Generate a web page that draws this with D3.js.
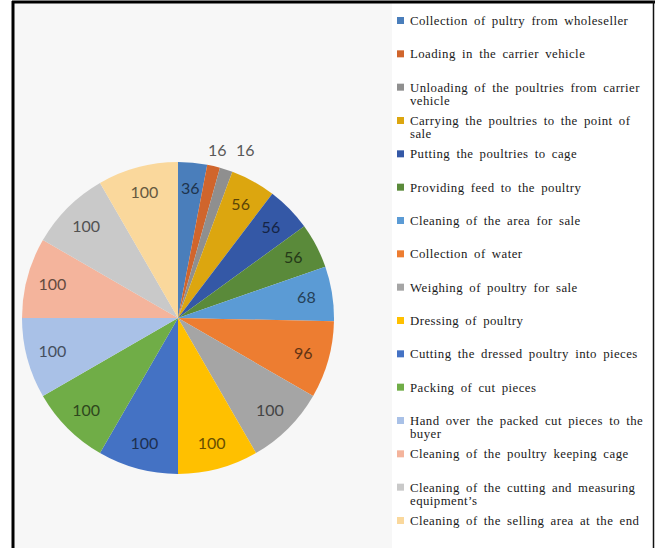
<!DOCTYPE html>
<html>
<head>
<meta charset="utf-8">
<script src="https://cdn.jsdelivr.net/npm/d3@7"></script>
<style>
  body { margin: 0; background: #fff; }
  svg { display: block; }
</style>
</head>
<body>
<div id="chart"></div>
<script>
// chart data
const tasks = [
  "Collection of pultry from wholeseller",
  "Loading in the carrier vehicle",
  "Unloading of the poultries from carrier\nvehicle",
  "Carrying the poultries to the point of\nsale",
  "Putting the poultries to cage",
  "Providing feed to the poultry",
  "Cleaning of the area for sale",
  "Collection of water",
  "Weighing of poultry for sale",
  "Dressing of poultry",
  "Cutting the dressed poultry into pieces",
  "Packing of cut pieces",
  "Hand over the packed cut pieces to the\nbuyer",
  "Cleaning of the poultry keeping cage",
  "Cleaning of the cutting and measuring\nequipment\u2019s",
  "Cleaning of the selling area at the end"
];
const values = [36, 16, 16, 56, 56, 56, 68, 96, 100, 100, 100, 100, 100, 100, 100, 100];
const colors = [
  "#4a7ebb", "#d0652c", "#8f8f8f", "#dca60f", "#3458a6", "#5a8a3a",
  "#5b9bd5", "#ed7d31", "#a5a5a5", "#ffc000", "#4472c4", "#70ad47",
  "#a9c1e7", "#f4b49c", "#c9c9c9", "#fad89c"
];

const W = 657, H = 548;
const cx = 178, cy = 318, R = 156;

const svg = d3.select("#chart").append("svg")
  .attr("width", W).attr("height", H);

// backgrounds
svg.append("rect").attr("x", 14).attr("y", 3).attr("width", 378).attr("height", H)
  .attr("fill", "#f7f7f7");

// frame
svg.append("line").attr("x1", 13).attr("x2", 13).attr("y1", 1).attr("y2", H)
  .attr("stroke", "#000").attr("stroke-width", 3);
svg.append("line").attr("x1", 12).attr("x2", 655).attr("y1", 2).attr("y2", 2)
  .attr("stroke", "#000").attr("stroke-width", 3);
svg.append("line").attr("x1", 653.5).attr("x2", 653.5).attr("y1", 1).attr("y2", H)
  .attr("stroke", "#111").attr("stroke-width", 1.5);

const pie = d3.pie().sort(null).value(d => d)(values);
const arc = d3.arc().innerRadius(0).outerRadius(R);
const labelArc = d3.arc().innerRadius(130).outerRadius(130);
const outArc = d3.arc().innerRadius(R + 16).outerRadius(R + 16);

const g = svg.append("g").attr("transform", "translate(" + cx + "," + cy + ")");

g.selectAll(".slice")
  .data(pie)
  .enter().append("path")
  .attr("class", "slice")
  .attr("d", arc)
  .attr("fill", (d, i) => colors[i]);

// small slices get their label outside the pie
const small = d => (d.endAngle - d.startAngle) < 0.12;

g.selectAll(".lbl")
  .data(pie.filter(d => !small(d)))
  .enter().append("text")
  .attr("class", "lbl")
  .attr("transform", d => "translate(" + labelArc.centroid(d) + ")")
  .attr("text-anchor", "middle")
  .attr("dy", "0.35em")
  .style("font-family", "Lato, 'Open Sans', sans-serif")
  .style("font-size", "16px")
  .attr("fill", d => d3.color(colors[d.index]).darker(2.5))
  .text(d => d.data);

// outside labels: keep them on one row, pushed apart if they overlap
let prev = null;
pie.filter(small).forEach(d => {
  let [x, y] = outArc.centroid(d);
  if (prev && x < prev[0] + 28) { x = prev[0] + 28; y = prev[1]; }
  prev = [x, y];
  g.append("text")
    .attr("x", x).attr("y", y)
    .attr("text-anchor", "middle")
    .attr("dy", "0.35em")
    .style("font-family", "Lato, 'Open Sans', sans-serif")
    .style("font-size", "16px")
    .attr("fill", "#595959")
    .text(d.data);
});

// legend
const legY = d3.scalePoint().domain(d3.range(tasks.length)).range([21, 521]);

const leg = svg.selectAll(".leg")
  .data(tasks)
  .enter().append("g")
  .attr("class", "leg")
  .attr("transform", (d, i) => "translate(397," + legY(i) + ")");

leg.append("rect")
  .attr("x", 0).attr("y", -4).attr("width", 7).attr("height", 7)
  .attr("fill", (d, i) => colors[i]);

leg.append("text")
  .attr("x", 13)
  .attr("y", 4)
  .style("font-family", "'Liberation Serif', 'Times New Roman', serif")
  .style("font-size", "12.8px")
  .style("letter-spacing", "0.45px")
  .style("word-spacing", "2.6px")
  .attr("fill", "#1a1a1a")
  .selectAll("tspan")
  .data(d => d.split("\n"))
  .enter().append("tspan")
  .attr("x", 13)
  .attr("dy", (d, i) => i ? 13 : 0)
  .text(d => d);
</script>
</body>
</html>
